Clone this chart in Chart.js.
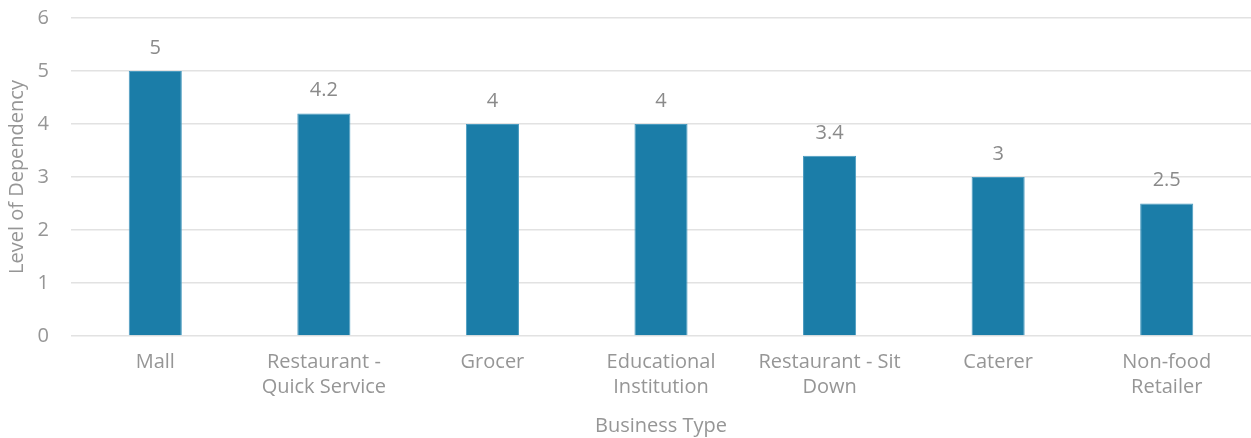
<!DOCTYPE html>
<html>
<head>
<meta charset="utf-8">
<script src="https://cdn.jsdelivr.net/npm/chart.js@4/dist/chart.umd.min.js"></script>
<style>
  html, body { margin: 0; padding: 0; background: #ffffff; }
  #wrap { width: 1251px; height: 438px; }
</style>
</head>
<body>
<div id="wrap"><canvas id="chart"></canvas></div>
<script>
// Business types (multi-line category labels)
const categories = [
  ["Mall"],
  ["Restaurant -", "Quick Service"],
  ["Grocer"],
  ["Educational", "Institution"],
  ["Restaurant - Sit", "Down"],
  ["Caterer"],
  ["Non-food", "Retailer"]
];
// Level of dependency for each business type
const dependency = [5, 4.2, 4, 4, 3.4, 3, 2.5];
// Value axis ticks
const yTicks = [0, 1, 2, 3, 4, 5, 6];

const FONT = "'Open Sans', 'Noto Sans', sans-serif";
const TEXT = "#969696";

// Writes each bar's value above it
const valueLabels = {
  id: "valueLabels",
  afterDatasetsDraw(chart) {
    const ctx = chart.ctx;
    const meta = chart.getDatasetMeta(0);
    ctx.save();
    ctx.font = "400 20px " + FONT;
    ctx.fillStyle = "#8a8a8a";
    ctx.textAlign = "center";
    ctx.textBaseline = "middle";
    meta.data.forEach((bar, i) => {
      ctx.fillText(String(dependency[i]), bar.x, bar.y - 23);
    });
    ctx.restore();
  }
};

new Chart(document.getElementById("chart"), {
  type: "bar",
  data: {
    labels: categories,
    datasets: [{
      data: dependency,
      backgroundColor: "#1b7da8",
      borderColor: "#4a9bc0",
      borderWidth: 1,
      barPercentage: 0.315,
      categoryPercentage: 1
    }]
  },
  options: {
    responsive: true,
    maintainAspectRatio: false,
    animation: false,
    layout: { padding: { top: 18, right: 0, bottom: 0, left: 0 } },
    plugins: {
      legend: { display: false },
      tooltip: { enabled: false }
    },
    scales: {
      x: {
        grid: { display: false, drawTicks: false },
        border: { display: false },
        ticks: {
          color: TEXT,
          font: { family: FONT, size: 20, weight: 400, lineHeight: 1.25 },
          padding: 14,
          maxRotation: 0,
          autoSkip: false
        },
        title: {
          display: true,
          text: "Business Type",
          color: TEXT,
          font: { family: FONT, size: 20, weight: 400 },
          padding: { top: 1, bottom: 0 }
        },
        afterFit(axis) {
          axis.height = 102;
          axis.paddingLeft = 0;
          axis.paddingRight = 0;
        }
      },
      y: {
        min: 0,
        max: 6,
        afterBuildTicks(axis) { axis.ticks = yTicks.map(v => ({ value: v })); },
        grid: { color: "#e2e2e2", lineWidth: 1.5, drawTicks: false },
        border: { display: false },
        ticks: {
          color: TEXT,
          font: { family: FONT, size: 20, weight: 400 },
          padding: 22
        },
        title: {
          display: true,
          text: "Level of Dependency",
          color: TEXT,
          font: { family: FONT, size: 20, weight: 400 },
          padding: { top: 5, bottom: 0 }
        },
        afterFit(axis) {
          axis.width = 71;
          axis.paddingTop = 0;
          axis.paddingBottom = 0;
        }
      }
    }
  },
  plugins: [valueLabels]
});
</script>
</body>
</html>
